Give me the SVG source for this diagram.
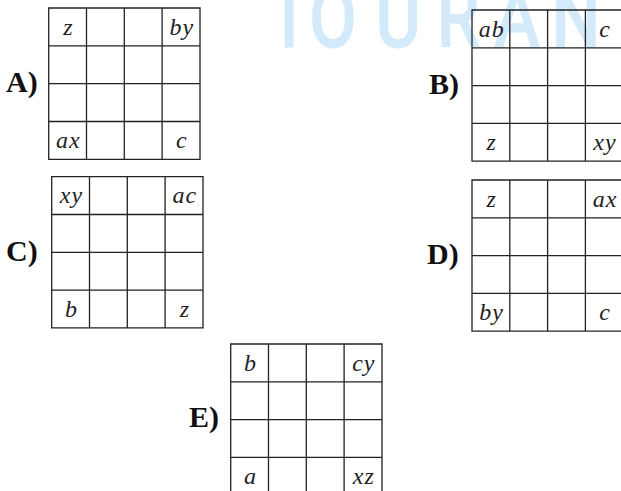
<svg xmlns="http://www.w3.org/2000/svg" width="621" height="491" viewBox="0 0 621 491">
<style>
.wm{font-family:"Roboto","Liberation Sans",sans-serif;font-size:68px;fill:#d3eafb;stroke:#d3eafb;stroke-width:2.4;text-anchor:middle}
.g{fill:none;stroke:#222;stroke-width:1.3}
.lab{font-family:"Liberation Serif",serif;font-weight:bold;font-size:30px;fill:#111}
.c{font-family:"Liberation Serif",serif;font-style:italic;font-size:24px;fill:#222;text-anchor:middle;letter-spacing:1px}
</style>
<rect width="621" height="491" fill="#fff"/>
<text class="wm" transform="translate(0,46) scale(1,1.2)" x="289 333 398 458 517 576" y="0">TOURAN</text>

<g id="gridA">
<text class="lab" x="6" y="92">A)</text>
<path class="g" d="M48.7 8H200V159.3H48.7Z M86.5 8V159.3 M124.3 8V159.3 M162.1 8V159.3 M48.7 45.8H200 M48.7 83.6H200 M48.7 121.5H200"/>
<text class="c" x="68.4" y="34.5">z</text>
<text class="c" x="181.9" y="34.5">by</text>
<text class="c" x="68.4" y="148.3">ax</text>
<text class="c" x="181.9" y="148.3">c</text>
</g>

<g id="gridB">
<text class="lab" x="429" y="94">B)</text>
<path class="g" d="M472 10H623.2V161.2H472Z M509.8 10V161.2 M547.6 10V161.2 M585.4 10V161.2 M472 47.8H623.2 M472 85.6H623.2 M472 123.4H623.2"/>
<text class="c" x="491.7" y="36.5">ab</text>
<text class="c" x="605" y="36.5">c</text>
<text class="c" x="491.7" y="150">z</text>
<text class="c" x="605" y="150">xy</text>
</g>

<g id="gridC">
<text class="lab" x="6" y="261">C)</text>
<path class="g" d="M51.7 176.7H203V327.9H51.7Z M89.5 176.7V327.9 M127.3 176.7V327.9 M165.1 176.7V327.9 M51.7 214.5H203 M51.7 252.3H203 M51.7 290.1H203"/>
<text class="c" x="71.4" y="203.2">xy</text>
<text class="c" x="184.8" y="203.2">ac</text>
<text class="c" x="71.4" y="316.6">b</text>
<text class="c" x="184.8" y="316.6">z</text>
</g>

<g id="gridD">
<text class="lab" x="427" y="264">D)</text>
<path class="g" d="M472 180H623.2V331.2H472Z M509.8 180V331.2 M547.6 180V331.2 M585.4 180V331.2 M472 217.8H623.2 M472 255.6H623.2 M472 293.4H623.2"/>
<text class="c" x="491.7" y="206.5">z</text>
<text class="c" x="605" y="206.5">ax</text>
<text class="c" x="491.7" y="319.9">by</text>
<text class="c" x="605" y="319.9">c</text>
</g>

<g id="gridE">
<text class="lab" x="189" y="427">E)</text>
<path class="g" d="M230.7 344H382V495.2H230.7Z M268.5 344V495.2 M306.3 344V495.2 M344.1 344V495.2 M230.7 381.8H382 M230.7 419.6H382 M230.7 457.4H382"/>
<text class="c" x="250.4" y="370.5">b</text>
<text class="c" x="363.8" y="370.5">cy</text>
<text class="c" x="250.4" y="483.9">a</text>
<text class="c" x="363.8" y="483.9">xz</text>
</g>
</svg>
